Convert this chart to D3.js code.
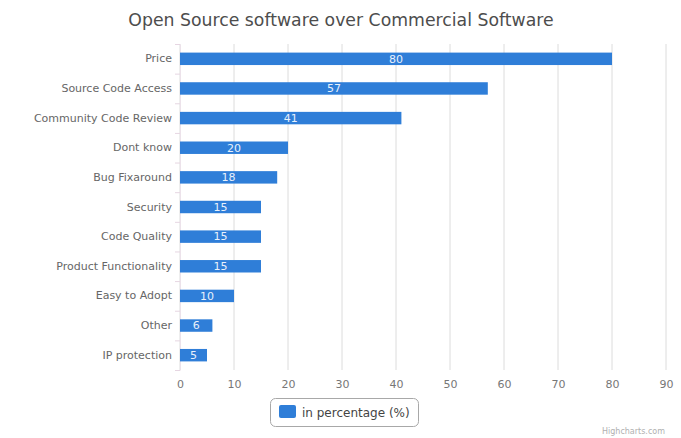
<!DOCTYPE html>
<html>
<head>
<meta charset="utf-8">
<script src="https://cdn.jsdelivr.net/npm/d3@7"></script>
<style>
  body { margin: 0; background: #fff; }
  svg { font-family: "DejaVu Sans", "Open Sans", sans-serif; }
</style>
</head>
<body>
<div id="plot"></div>
<script>
// data
var categories = ["Price", "Source Code Access", "Community Code Review", "Dont know", "Bug Fixaround",
    "Security", "Code Quality", "Product Functionality", "Easy to Adopt", "Other", "IP protection"];
var values = [80, 57, 41, 20, 18, 15, 15, 15, 10, 6, 5];
var xTicks = [0, 10, 20, 30, 40, 50, 60, 70, 80, 90];
var seriesName = "in percentage (%)";

var width = 681, height = 438;
var margin = {top: 44, right: 15, bottom: 68, left: 180};
var innerW = 666 - margin.left;
var innerH = 370 - margin.top;
var font = "DejaVu Sans, Open Sans, sans-serif";

var svg = d3.select("#plot").append("svg")
    .attr("width", width)
    .attr("height", height);

// title
svg.append("text")
    .attr("x", 341).attr("y", 26)
    .attr("text-anchor", "middle")
    .attr("font-size", 17.3)
    .attr("fill", "#4d4d4d")
    .text("Open Source software over Commercial Software");

var g = svg.append("g")
    .attr("transform", "translate(" + margin.left + "," + margin.top + ")");

var xScale = d3.scaleLinear().domain([0, 90]).range([0, innerW]);
var yScale = d3.scaleBand().domain(categories).range([0, innerH]).paddingInner(0.58).paddingOuter(0.29);

// grid
g.selectAll(".grid")
    .data(xTicks)
    .enter()
    .append("line")
        .attr("x1", d => xScale(d)).attr("x2", d => xScale(d))
        .attr("y1", 0).attr("y2", innerH)
        .attr("stroke", "#dcdcdc")
        .attr("stroke-width", 1);

// x axis
var xAxis = g.append("g")
    .attr("transform", "translate(0," + innerH + ")")
    .call(d3.axisBottom(xScale).tickValues(xTicks).tickSize(0).tickPadding(10))
    .attr("font-family", font);
xAxis.select(".domain").remove();
xAxis.selectAll("text").attr("fill", "#777").attr("font-size", 11);

// y axis
var yAxis = g.append("g")
    .call(d3.axisLeft(yScale).tickSize(0).tickPadding(8))
    .attr("font-family", font);
yAxis.select(".domain").attr("stroke", "#ece2ea");
yAxis.selectAll("text").attr("fill", "#666").attr("font-size", 11);

// category tick marks between bands
var step = yScale.step();
g.selectAll(".ytick")
    .data(d3.range(categories.length + 1))
    .enter()
    .append("line")
        .attr("x1", -5).attr("x2", 0)
        .attr("y1", i => i * step + 0.5).attr("y2", i => i * step + 0.5)
        .attr("stroke", "#e6d6e2");

// bars
g.selectAll("mybar")
    .data(values)
    .enter()
    .append("rect")
        .attr("x", 0)
        .attr("y", (d, i) => yScale(categories[i]))
        .attr("width", d => xScale(d))
        .attr("height", yScale.bandwidth())
        .attr("fill", "#2f7ed8");

// value labels
g.selectAll("mylabel")
    .data(values)
    .enter()
    .append("text")
        .attr("x", d => xScale(d) / 2)
        .attr("y", (d, i) => yScale(categories[i]) + yScale.bandwidth() / 2)
        .attr("dy", "0.35em")
        .attr("text-anchor", "middle")
        .attr("font-size", 11)
        .attr("fill", "#e8f0fb")
        .text(d => d);

// legend
var legend = svg.append("g").attr("transform", "translate(270,398)");
legend.append("rect")
    .attr("x", 0.5).attr("y", 0.5)
    .attr("width", 148).attr("height", 28)
    .attr("rx", 5)
    .attr("fill", "#fff")
    .attr("stroke", "#a8a8a8");
legend.append("rect")
    .attr("x", 9).attr("y", 7)
    .attr("width", 17).attr("height", 13)
    .attr("rx", 2)
    .attr("fill", "#2f7ed8");
legend.append("text")
    .attr("x", 32).attr("y", 18.5)
    .attr("font-size", 12)
    .attr("fill", "#444")
    .text(seriesName);

// credit
svg.append("text")
    .attr("x", 665).attr("y", 434)
    .attr("text-anchor", "end")
    .attr("font-size", 8)
    .attr("fill", "#b0b0b0")
    .text("Highcharts.com");
</script>
</body>
</html>
